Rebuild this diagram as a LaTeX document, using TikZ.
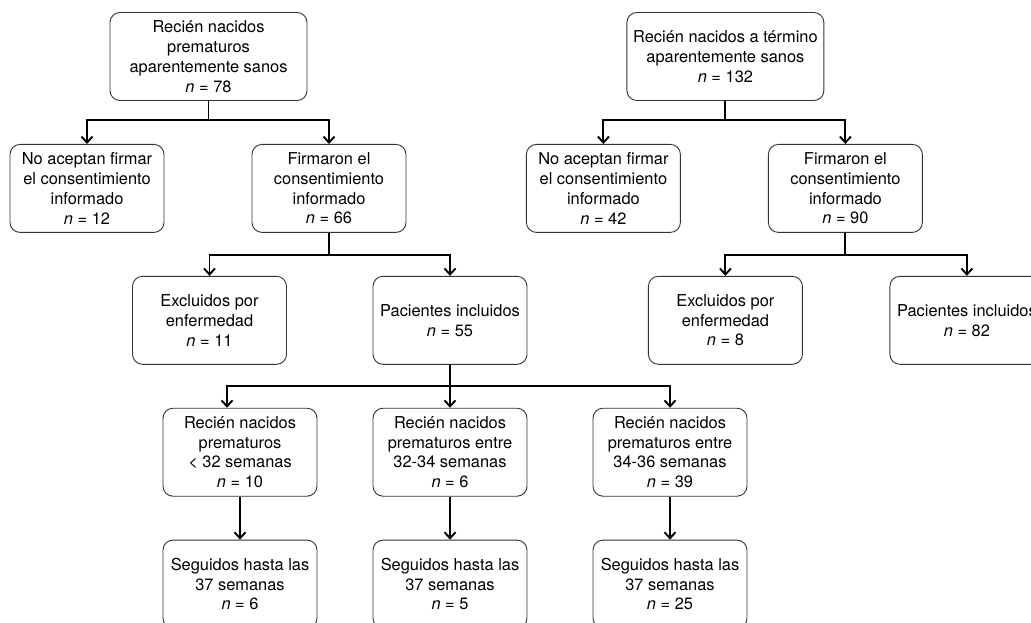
\documentclass[tikz,border=0pt]{standalone}
\usepackage{fontspec}
\setmainfont{TeX Gyre Heros}
\usetikzlibrary{arrows.meta}
\usetikzlibrary{positioning}
\tikzset {
  % flow chart box
  box/.style = {
    draw = black!80,
    line width = 0.9pt,
    rounded corners = 10pt,
    minimum width = 154pt,
    minimum height = 88pt,
    inner sep = 2pt,
    align = center,
    font = \fontsize{16.4}{19.8}\selectfont
  },
  % top box of each group
  wide/.style = {
    box,
    minimum width = 197pt
  },
  conn/.style = {
    draw = black,
    line width = 1.9pt
  },
  % connector ending in an arrow
  arr/.style = {
    conn,
    -{Straight Barb[length=6pt,width=11pt]}
  },
  node distance = 43pt
}

\begin{document}
\begin{tikzpicture}
    \path[fill = white, use as bounding box] (0,0) rectangle (1031pt,-622pt);
    \clip (0,0) rectangle (1031pt,-622pt);

    % preterm branch
    \node[wide] (preTop) at (208.5pt,-56.5pt) {Recién nacidos\\prematuros\\aparentemente sanos\\\textit{n} = 78};
    \node[box] (preNo) [below=of preTop, xshift=-121.5pt] {No aceptan firmar\\el consentimiento\\informado\\\textit{n} = 12};
    \node[box] (preSi) [below=of preTop, xshift=120.5pt] {Firmaron el\\consentimiento\\informado\\\textit{n} = 66};
    \node[box] (preExcl) [below=of preSi, xshift=-119.5pt] {Excluidos por\\enfermedad\\\textit{n} = 11};
    \node[box] (preIncl) [below=of preSi, xshift=121pt] {Pacientes incluidos\\\textit{n} = 55};
    \node[box] (g32) [below=of preIncl, xshift=-210pt] {Recién nacidos\\prematuros\\< 32 semanas\\\textit{n} = 10};
    \node[box] (g34) [below=of preIncl] {Recién nacidos\\prematuros entre\\32-34 semanas\\\textit{n} = 6};
    \node[box] (g36) [below=of preIncl, xshift=220pt] {Recién nacidos\\prematuros entre\\34-36 semanas\\\textit{n} = 39};
    \node[box] (s32) [below=of g32] {Seguidos hasta las\\37 semanas\\\textit{n} = 6};
    \node[box] (s34) [below=of g34] {Seguidos hasta las\\37 semanas\\\textit{n} = 5};
    \node[box] (s36) [below=of g36] {Seguidos hasta las\\37 semanas\\\textit{n} = 25};

    % term branch
    \node[wide] (termTop) [right=319pt of preTop] {Recién nacidos a término\\aparentemente sanos\\\textit{n} = 132};
    \node[box] (termNo) [below=of termTop, xshift=-122pt] {No aceptan firmar\\el consentimiento\\informado\\\textit{n} = 42};
    \node[box] (termSi) [below=of termTop, xshift=120pt] {Firmaron el\\consentimiento\\informado\\\textit{n} = 90};
    \node[box] (termExcl) [below=of termSi, xshift=-120pt] {Excluidos por\\enfermedad\\\textit{n} = 8};
    \node[box] (termIncl) [below=of termSi, xshift=121.5pt] {Pacientes incluidos\\\textit{n} = 82};

    \draw[conn] (preTop.south) -- ++(0,-19pt) coordinate (preFork);
    \draw[arr] (preFork) -| (preNo);
    \draw[arr] (preFork) -| (preSi);
    \draw[conn] (preSi.south) -- ++(0,-22pt) coordinate (siFork);
    \draw[arr] (siFork) -| (preExcl);
    \draw[arr] (siFork) -| (preIncl);
    \draw[conn] (preIncl.south) -- ++(0,-21pt) coordinate (inclFork);
    \draw[arr] (inclFork) -| ([xshift=-13pt]g32.north);
    \draw[arr] (inclFork) -- (g34);
    \draw[arr] (inclFork) -| (g36);
    \draw[arr] (g32) -- (s32);
    \draw[arr] (g34) -- (s34);
    \draw[arr] (g36) -- (s36);

    \draw[conn] (termTop.south) -- ++(0,-19pt) coordinate (termFork);
    \draw[arr] (termFork) -| (termNo);
    \draw[arr] (termFork) -| (termSi);
    \draw[conn] (termSi.south) -- ++(0,-22pt) coordinate (tsiFork);
    \draw[arr] (tsiFork) -| (termExcl);
    \draw[arr] (tsiFork) -| (termIncl);
  \end{tikzpicture}
\end{document}
